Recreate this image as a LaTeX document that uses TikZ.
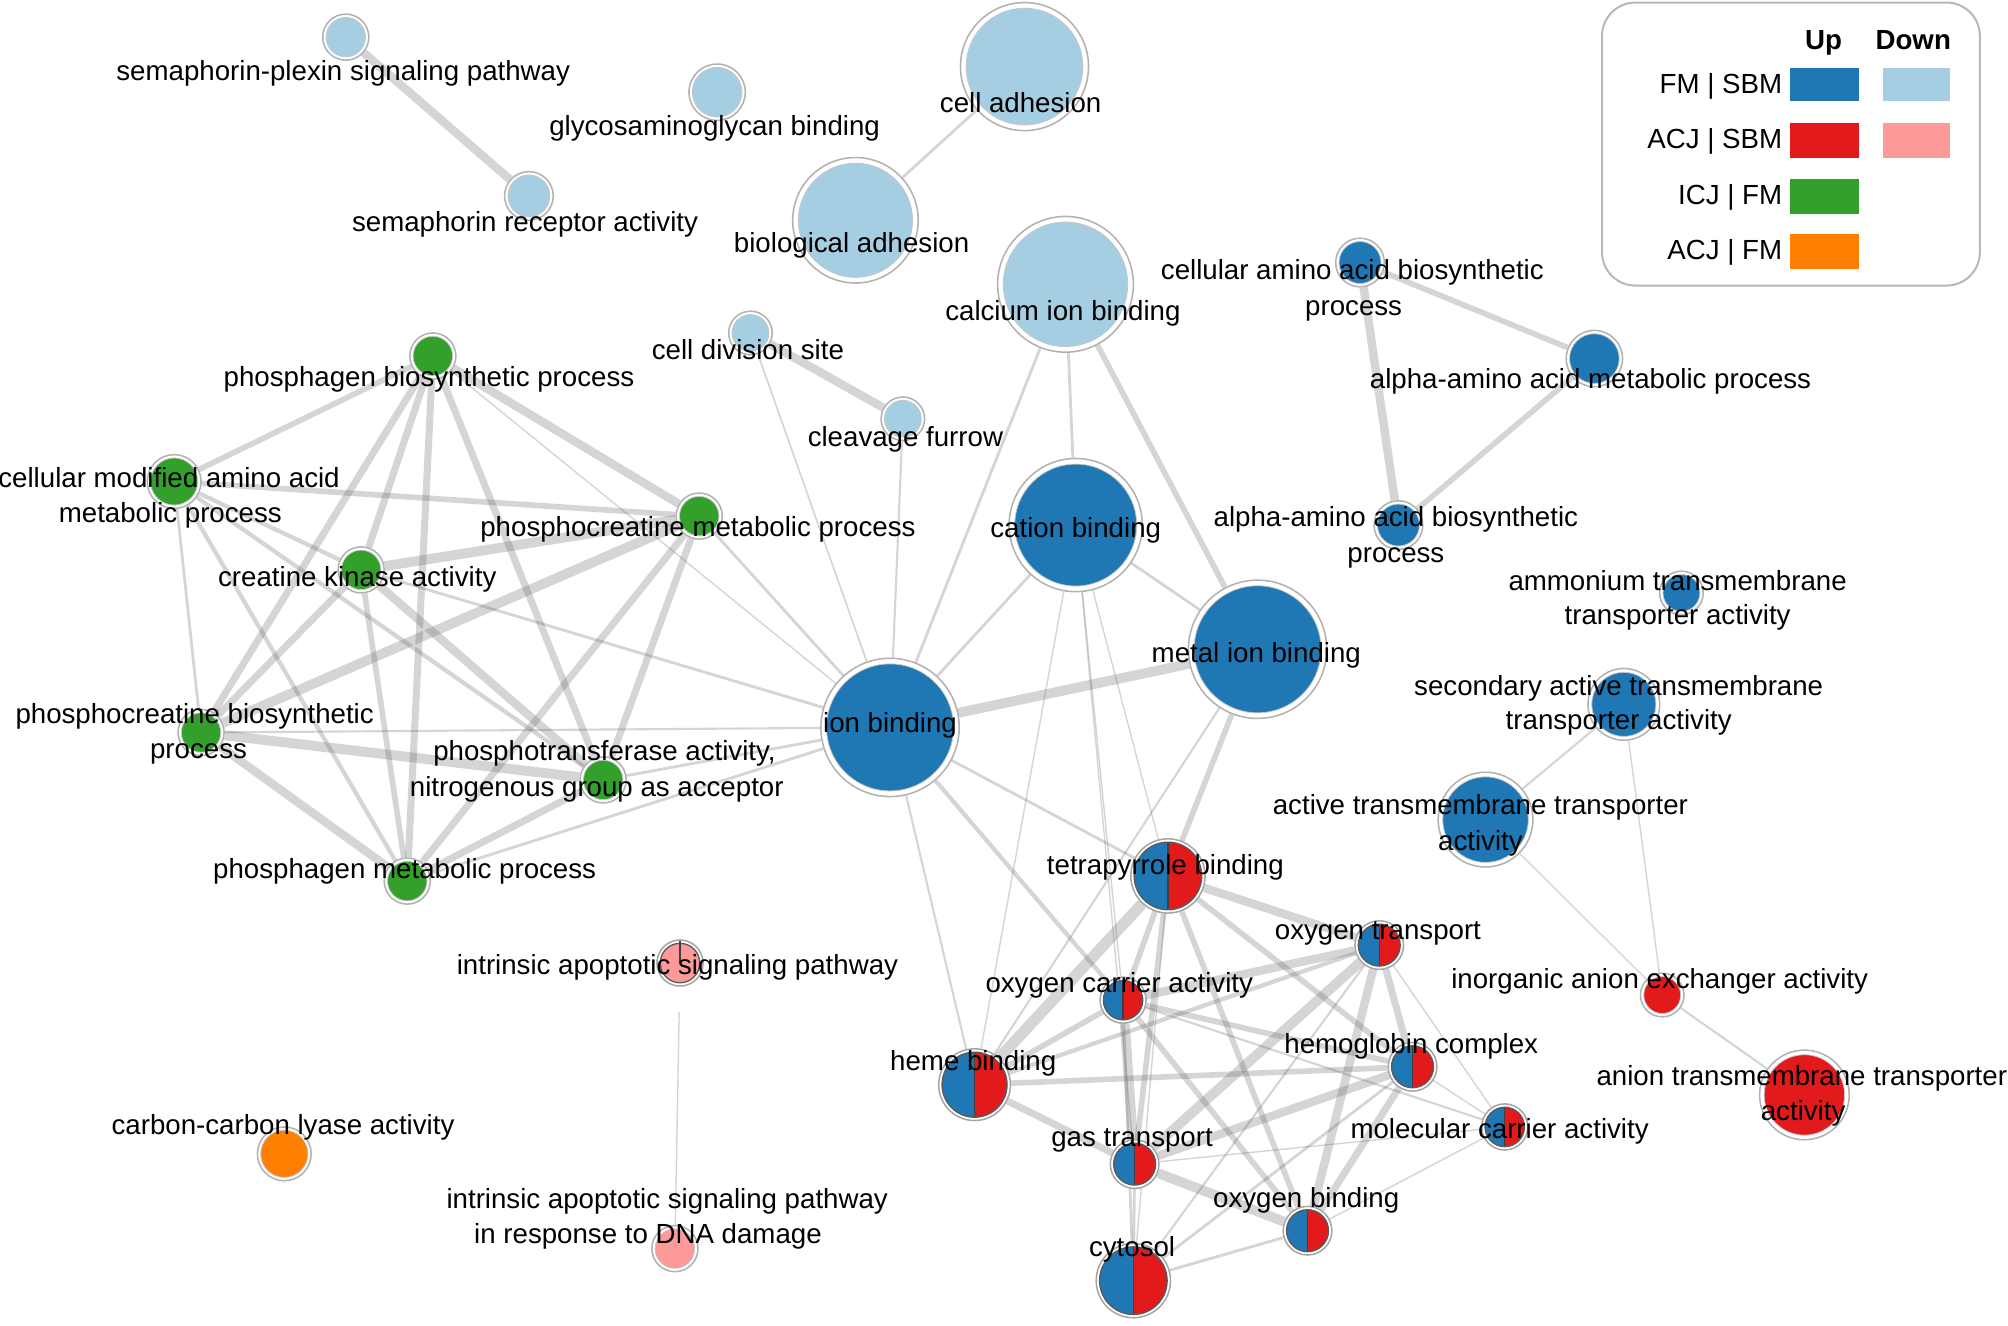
\documentclass[tikz,border=0pt]{standalone}
\usepackage{fontspec}
\setmainfont{Liberation Sans}
\usetikzlibrary{calc}
\pgfdeclarelayer{back}
\pgfdeclarelayer{bg}
\pgfsetlayers{back,bg,main}
\definecolor{cblue}{HTML}{1F78B4}
\definecolor{lblue}{HTML}{A6CEE3}
\definecolor{cred}{HTML}{E31A1C}
\definecolor{lred}{HTML}{FB9A99}
\definecolor{cgreen}{HTML}{33A02C}
\definecolor{corange}{HTML}{FF7F00}
\tikzset{
  gonode/.style n args={3}{circle, inner sep=0pt, minimum size=#1pt, draw=gray!60, line width=0.6pt, fill=white,
    path picture={\fill[#2] (path picture bounding box.center) circle[radius={0.5*#1pt-#3pt}];
      \draw[gray!45, line width=0.3pt] (path picture bounding box.center) circle[radius={0.5*#1pt-#3pt}];}},
  splitnode/.style={circle, inner sep=0pt, minimum size=#1pt, draw=gray!70, line width=0.6pt, fill=white,
    path picture={\begin{scope}
        \clip (path picture bounding box.center) circle[radius={0.5*#1pt-1.3pt}];
        \fill[cblue] (path picture bounding box.south west) rectangle (path picture bounding box.north);
        \fill[cred] (path picture bounding box.south) rectangle (path picture bounding box.north east);
        \draw[black!75, line width=0.5pt] (path picture bounding box.south) -- (path picture bounding box.north);
      \end{scope}
      \draw[black!65, line width=0.5pt] (path picture bounding box.center) circle[radius={0.5*#1pt-1.3pt}];}},
  pienode/.style={circle, inner sep=0pt, minimum size=#1pt, draw=gray!70, line width=0.6pt, fill=white,
    path picture={\fill[lred] (path picture bounding box.center) circle[radius={0.5*#1pt-1.3pt}];
      \draw[black!65, line width=0.5pt] (path picture bounding box.center) circle[radius={0.5*#1pt-1.3pt}];
      \draw[black!75, line width=0.5pt] (path picture bounding box.center) -- (path picture bounding box.north);}},
  lnk/.style={draw=black!60, draw opacity=0.27, line width=#1*0.55pt},
  lab/.style={anchor=base, inner sep=0pt, text=black, yshift=-1.5pt},
  legtxt/.style={anchor=base east, inner sep=0pt, text=black},
  leghead/.style={anchor=base, inner sep=0pt, text=black, font=\fontsize{10.8}{13}\selectfont\bfseries},
}
\begin{document}
\begin{tikzpicture}[x=0.5pt, y=-0.5pt, font=\fontsize{10.8}{13}\selectfont]
\begin{pgfonlayer}{back}
\fill[white] (0,0) rectangle (1568,1035);
\end{pgfonlayer}
\useasboundingbox (0,0) rectangle (1568,1035);

% ---------- nodes ----------
\node[gonode={18}{lblue}{1.3}] (spp) at (270,29) {};
\node[gonode={22}{lblue}{1.3}] (gag) at (560,72) {};
\node[gonode={50}{lblue}{2.2}] (cad) at (800,52) {};
\node[gonode={19}{lblue}{1.3}] (sra) at (413,153) {};
\node[gonode={49}{lblue}{2.2}] (bad) at (668,172) {};
\node[gonode={53}{lblue}{2.2}] (cib) at (832,222) {};
\node[gonode={17}{lblue}{1.3}] (cds) at (586,260) {};
\node[gonode={17}{lblue}{1.3}] (clf) at (705,327) {};
\node[gonode={19}{cblue}{1.3}] (caab) at (1062,205) {};
\node[gonode={22}{cblue}{1.3}] (aamp) at (1245,280) {};
\node[gonode={19}{cblue}{1.3}] (aabp) at (1092,410) {};
\node[gonode={52}{cblue}{2.2}] (cat) at (840,410) {};
\node[gonode={54}{cblue}{2.2}] (mib) at (982,507) {};
\node[gonode={54}{cblue}{2.2}] (ionb) at (695,568) {};
\node[gonode={17}{cblue}{1.3}] (amm) at (1313,463) {};
\node[gonode={28}{cblue}{1.5}] (sat) at (1268,550) {};
\node[gonode={37}{cblue}{1.8}] (atm) at (1160,640) {};
\node[gonode={18}{cgreen}{1.3}] (pbp) at (338,278) {};
\node[gonode={21}{cgreen}{1.3}] (cma) at (136,376) {};
\node[gonode={18}{cgreen}{1.3}] (pcm) at (546,403) {};
\node[gonode={18}{cgreen}{1.3}] (cka) at (282,445) {};
\node[gonode={18}{cgreen}{1.3}] (pcb) at (157,572) {};
\node[gonode={18}{cgreen}{1.3}] (pta) at (471,609) {};
\node[gonode={18}{cgreen}{1.3}] (pmp) at (318,688) {};
\node[splitnode=29] (tpb) at (912,684) {};
\node[splitnode=19] (otr) at (1077,738) {};
\node[splitnode=18] (oca) at (877,781) {};
\node[splitnode=19] (hbc) at (1103,833) {};
\node[splitnode=28] (hmb) at (761,847) {};
\node[splitnode=18] (mca) at (1175,880) {};
\node[splitnode=19] (gtr) at (886,909) {};
\node[splitnode=19] (obd) at (1021,961) {};
\node[splitnode=29] (cyt) at (885,1000) {};
\node[pienode=18] (iasp) at (531,752) {};
\node[gonode={18}{lred}{1.3}] (iadna) at (527,975) {};
\node[gonode={17}{cred}{1.3}] (iae) at (1298,777) {};
\node[gonode={35}{cred}{1.8}] (ata) at (1409,855) {};
\node[gonode={21}{corange}{1.3}] (ccl) at (222,901) {};

% ---------- edges ----------
\begin{pgfonlayer}{bg}
\draw[lnk=6] (spp) -- (sra);
\draw[lnk=2] (cad) -- (bad);
\draw[lnk=2] (cib) -- (cat);
\draw[lnk=4] (cib) -- (mib);
\draw[lnk=2] (cib) -- (ionb);
\draw[lnk=6] (cds) -- (clf);
\draw[lnk=1.2] (cds) -- (ionb);
\draw[lnk=1.5] (clf) -- (ionb);
\draw[lnk=4] (caab) -- (aamp);
\draw[lnk=6] (caab) -- (aabp);
\draw[lnk=4] (aamp) -- (aabp);
\draw[lnk=2] (cat) -- (ionb);
\draw[lnk=2] (cat) -- (mib);
\draw[lnk=7] (mib) -- (ionb);
\draw[lnk=1] (cat) -- (tpb);
\draw[lnk=1] (cat) -- (oca);
\draw[lnk=1] (cat) -- (hmb);
\draw[lnk=1] (cat) -- (gtr);
\draw[lnk=4] (mib) -- (tpb);
\draw[lnk=1.5] (mib) -- (hmb);
\draw[lnk=2] (ionb) -- (tpb);
\draw[lnk=1.5] (ionb) -- (hmb);
\draw[lnk=3] (ionb) -- (oca);
\draw[lnk=2] (ionb) -- (pcm);
\draw[lnk=2] (ionb) -- (cka);
\draw[lnk=1.5] (ionb) -- (pcb);
\draw[lnk=2] (ionb) -- (pta);
\draw[lnk=2] (ionb) -- (pmp);
\draw[lnk=1] (ionb) -- (pbp);
% green cluster
\draw[lnk=4] (pbp) -- (cma);
\draw[lnk=5] (pbp) -- (cka);
\draw[lnk=5] (pbp) -- (pcb);
\draw[lnk=5] (pbp) -- (pmp);
\draw[lnk=5] (pbp) -- (pta);
\draw[lnk=6] (pbp) -- (pcm);
\draw[lnk=4] (cma) -- (pcm);
\draw[lnk=3] (cma) -- (cka);
\draw[lnk=2] (cma) -- (pcb);
\draw[lnk=3] (cma) -- (pmp);
\draw[lnk=3] (cma) -- (pta);
\draw[lnk=7] (pcm) -- (cka);
\draw[lnk=7] (pcm) -- (pcb);
\draw[lnk=5] (pcm) -- (pmp);
\draw[lnk=5] (pcm) -- (pta);
\draw[lnk=5] (cka) -- (pcb);
\draw[lnk=4] (cka) -- (pmp);
\draw[lnk=6] (cka) -- (pta);
\draw[lnk=7] (pcb) -- (pta);
\draw[lnk=6] (pcb) -- (pmp);
\draw[lnk=5] (pta) -- (pmp);
% right side
\draw[lnk=1.5] (sat) -- (atm);
\draw[lnk=1] (sat) -- (iae);
\draw[lnk=1] (atm) -- (iae);
\draw[lnk=1.5] (iae) -- (ata);
\draw[lnk=1, shorten <=10pt] (iasp) -- (iadna);
% red/blue cluster
\draw[lnk=6] (tpb) -- (otr);
\draw[lnk=4] (tpb) -- (oca);
\draw[lnk=8] (tpb) -- (hmb);
\draw[lnk=4] (tpb) -- (gtr);
\draw[lnk=4] (tpb) -- (obd);
\draw[lnk=4] (tpb) -- (hbc);
\draw[lnk=1] (tpb) -- (cyt);
\draw[lnk=6] (otr) -- (oca);
\draw[lnk=3] (otr) -- (hmb);
\draw[lnk=7] (otr) -- (gtr);
\draw[lnk=5] (otr) -- (hbc);
\draw[lnk=6] (otr) -- (obd);
\draw[lnk=1] (otr) -- (mca);
\draw[lnk=1.5] (otr) -- (cyt);
\draw[lnk=7] (oca) -- (gtr);
\draw[lnk=4] (oca) -- (obd);
\draw[lnk=4] (oca) -- (hbc);
\draw[lnk=1.5] (oca) -- (mca);
\draw[lnk=4] (oca) -- (hmb);
\draw[lnk=2] (oca) -- (cyt);
\draw[lnk=4] (hbc) -- (hmb);
\draw[lnk=6] (hbc) -- (gtr);
\draw[lnk=5] (hbc) -- (obd);
\draw[lnk=2] (hbc) -- (cyt);
\draw[lnk=1] (hbc) -- (mca);
\draw[lnk=5] (hmb) -- (gtr);
\draw[lnk=7] (gtr) -- (obd);
\draw[lnk=2] (gtr) -- (cyt);
\draw[lnk=1] (gtr) -- (mca);
\draw[lnk=2] (obd) -- (cyt);
\draw[lnk=1] (obd) -- (mca);
\end{pgfonlayer}

% ---------- labels ----------
\node[lab] (l-spp) at (268,60) {semaphorin-plexin signaling pathway};
\node[lab] (l-gag) at (558,103) {glycosaminoglycan binding};
\node[lab] (l-cad) at (797,85) {cell adhesion};
\node[lab] (l-sra) at (410,178) {semaphorin receptor activity};
\node[lab] (l-bad) at (665,194) {biological adhesion};
\node[lab] (l-cib) at (830,247) {calcium ion binding};
\node[lab] (l-cds) at (584,278) {cell division site};
\node[lab] (l-clf) at (707,346) {cleavage furrow};
\node[lab] (l-caab1) at (1056,215) {cellular amino acid biosynthetic};
\node[lab] (l-caab2) at (1057,243) {process};
\node[lab] (l-aamp) at (1242,300) {alpha-amino acid metabolic process};
\node[lab] (l-aabp1) at (1090,408) {alpha-amino acid biosynthetic};
\node[lab] (l-aabp2) at (1090,436) {process};
\node[lab] (l-cat) at (840,417) {cation binding};
\node[lab] (l-mib) at (981,514) {metal ion binding};
\node[lab] (l-ionb) at (695,569) {ion binding};
\node[lab] (l-amm1) at (1310,458) {ammonium transmembrane};
\node[lab] (l-amm2) at (1310,485) {transporter activity};
\node[lab] (l-sat1) at (1264,540) {secondary active transmembrane};
\node[lab] (l-sat2) at (1264,567) {transporter activity};
\node[lab] (l-atm1) at (1156,633) {active transmembrane transporter};
\node[lab] (l-atm2) at (1156,661) {activity};
\node[lab] (l-pbp) at (335,299) {phosphagen biosynthetic process};
\node[lab] (l-cma1) at (132,378) {cellular modified amino acid};
\node[lab] (l-cma2) at (133,405) {metabolic process};
\node[lab] (l-pcm) at (545,416) {phosphocreatine metabolic process};
\node[lab] (l-cka) at (279,455) {creatine kinase activity};
\node[lab] (l-pcb1) at (152,562) {phosphocreatine biosynthetic};
\node[lab] (l-pcb2) at (155,589) {process};
\node[lab] (l-pta1) at (472,591) {phosphotransferase activity,};
\node[lab] (l-pta2) at (466,619) {nitrogenous group as acceptor};
\node[lab] (l-pmp) at (316,683) {phosphagen metabolic process};
\node[lab] (l-tpb) at (910,680) {tetrapyrrole binding};
\node[lab] (l-otr) at (1076,731) {oxygen transport};
\node[lab] (l-oca) at (874,772) {oxygen carrier activity};
\node[lab] (l-hbc) at (1102,820) {hemoglobin complex};
\node[lab] (l-hmb) at (760,833) {heme binding};
\node[lab] (l-mca) at (1171,886) {molecular carrier activity};
\node[lab] (l-gtr) at (884,892) {gas transport};
\node[lab] (l-obd) at (1020,940) {oxygen binding};
\node[lab] (l-cyt) at (884,978) {cytosol};
\node[lab] (l-iasp) at (529,758) {intrinsic apoptotic signaling pathway};
\node[lab] (l-iadna1) at (521,941) {intrinsic apoptotic signaling pathway};
\node[lab] (l-iadna2) at (506,968) {in response to DNA damage};
\node[lab] (l-iae) at (1296,769) {inorganic anion exchanger activity};
\node[lab] (l-ata1) at (1407,845) {anion transmembrane transporter};
\node[lab] (l-ata2) at (1408,872) {activity};
\node[lab] (l-ccl) at (221,883) {carbon-carbon lyase activity};

% ---------- legend ----------
\draw[gray!55, line width=0.8pt, rounded corners=13pt] (1251,2) rectangle (1546,223);
\node[leghead] (lg-up) at (1424,39) {Up};
\node[leghead] (lg-down) at (1494,39) {Down};
\node[legtxt] (lg-r1) at (1392,73) {FM | SBM};
\node[legtxt] (lg-r2) at (1392,116) {ACJ | SBM};
\node[legtxt] (lg-r3) at (1392,160) {ICJ | FM};
\node[legtxt] (lg-r4) at (1392,203) {ACJ | FM};
\fill[cblue] (1398,53) rectangle (1452,79);
\fill[lblue] (1470,53) rectangle (1523,79);
\fill[cred] (1398,96) rectangle (1452,123);
\fill[lred] (1470,96) rectangle (1523,123);
\fill[cgreen] (1398,140) rectangle (1452,167);
\fill[corange] (1398,183) rectangle (1452,210);
\end{tikzpicture}
\end{document}
